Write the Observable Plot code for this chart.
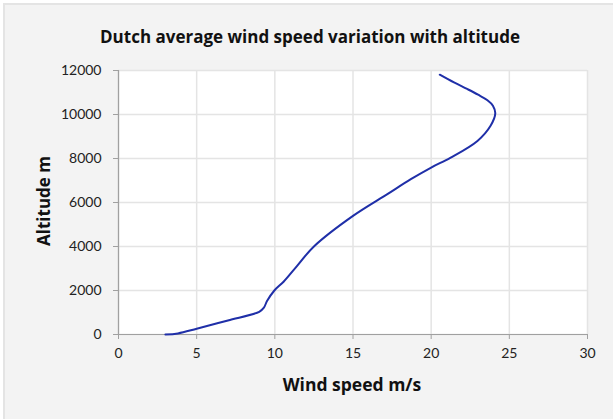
<!DOCTYPE html>
<html>
<head>
<meta charset="utf-8">
<script src="https://cdn.jsdelivr.net/npm/d3@7"></script>
<script src="https://cdn.jsdelivr.net/npm/@observablehq/plot@0.6"></script>
<style>
  html, body { margin: 0; padding: 0; background: #ffffff; }
  #page { position: relative; width: 613px; height: 419px; overflow: hidden; font-family: Lato, "Open Sans", sans-serif; }
  #panel { position: absolute; left: 3px; top: 3px; width: 612px; height: 418px; background: #f3f3f3; border-top: 2px solid #e4e4e4; border-left: 2px solid #e4e4e4; box-sizing: border-box; }
  #chart { position: absolute; left: 0; top: 0; }
  .lab { font-family: "Open Sans", Lato, sans-serif; font-weight: bold; font-size: 17px; color: #111; }
  .title { position: absolute; left: 0; width: 620px; top: 25px; text-align: center; }
  .xlabel { position: absolute; left: 152px; width: 400px; top: 372px; text-align: center; font-size: 17.5px; }
  .ylabel { position: absolute; left: 43px; top: 201px; transform: translate(-50%, -50%) rotate(-90deg); white-space: nowrap; }
</style>
</head>
<body>
<div id="page">
  <div id="panel"></div>
  <div id="chart"></div>
  <div class="lab title">Dutch average wind speed variation with altitude</div>
  <div class="lab xlabel">Wind speed m/s</div>
  <div class="lab ylabel">Altitude m</div>
</div>
<script>
// Wind speed (m/s) at each altitude (m)
const windSpeed = [3.0, 3.8, 5.0, 7.0, 9.0, 9.3, 9.5, 9.97, 10.56, 11.4, 12.5, 15.0, 17.2, 18.7, 20.0, 21.25, 22.96, 23.8, 24.1, 23.95, 23.6, 23.0, 22.3, 21.46, 20.55];
const altitude  = [0,   50,  260, 640, 1030, 1220, 1520, 2000, 2400, 3100, 4000, 5390, 6380, 7060, 7590, 8040, 8800, 9490, 10050, 10400, 10650, 10900, 11160, 11457, 11810];
const xTicks = [0, 5, 10, 15, 20, 25, 30];
const yTicks = [0, 2000, 4000, 6000, 8000, 10000, 12000];

const data = windSpeed.map((s, i) => ({speed: s, alt: altitude[i]}));

const chart = Plot.plot({
  width: 613,
  height: 419,
  marginLeft: 118,
  marginRight: 26,
  marginTop: 70,
  marginBottom: 85,
  style: {background: "transparent", fontFamily: "Lato, 'Open Sans', sans-serif", fontSize: "14px", color: "#222"},
  x: {domain: [0, 30], label: null},
  y: {domain: [0, 12000], label: null},
  marks: [
    Plot.frame({fill: "white", stroke: "none"}),
    Plot.ruleX(xTicks, {stroke: "#e4e4e4", strokeWidth: 1.5}),
    Plot.ruleY(yTicks, {stroke: "#e4e4e4", strokeWidth: 1.5}),
    Plot.ruleX([0], {stroke: "#a0a0a0", strokeWidth: 1.2}),
    Plot.ruleY([0], {stroke: "#a0a0a0", strokeWidth: 1.2}),
    Plot.axisX({ticks: xTicks, tickSize: 5, tickPadding: 9, stroke: "#a0a0a0", fill: "#222", label: null, tickFormat: d => String(d)}),
    Plot.axisY({ticks: yTicks, tickSize: 5, tickPadding: 12, stroke: "#a0a0a0", fill: "#222", label: null, tickFormat: d => String(d)}),
    Plot.line(data, {x: "speed", y: "alt", stroke: "#1f2fa8", strokeWidth: 2, curve: "catmull-rom"})
  ]
});
document.getElementById("chart").appendChild(chart);
</script>
</body>
</html>
